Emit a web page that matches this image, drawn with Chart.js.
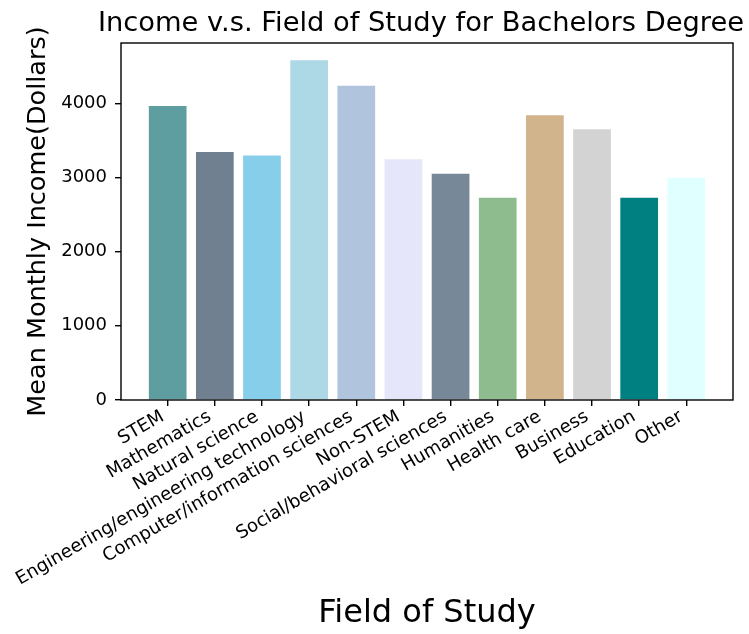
<!DOCTYPE html>
<html>
<head>
<meta charset="utf-8">
<script src="https://cdn.jsdelivr.net/npm/chart.js@4"></script>
<style>
html,body{margin:0;padding:0;background:#fff;}
#wrap{width:749px;height:634px;}
</style>
</head>
<body>
<div id="wrap"><canvas id="c" width="749" height="634"></canvas></div>
<script>
const chartTitle = "Income v.s. Field of Study for Bachelors Degree";
const xAxisTitle = "Field of Study";
const yAxisTitle = "Mean Monthly Income(Dollars)";
const categories = ["STEM","Mathematics","Natural science","Engineering/engineering technology","Computer/information sciences","Non-STEM","Social/behavioral sciences","Humanities","Health care","Business","Education","Other"];
const incomes = [3964, 3344, 3294, 4578, 4235, 3245, 3051, 2727, 3838, 3648, 2727, 2997];
const barColors = ["#5F9EA0","#708090","#87CEEB","#ADD8E6","#B0C4DE","#E6E6FA","#778899","#8FBC8F","#D2B48C","#D3D3D3","#008080","#E0FFFF"];
const yTicks = [0, 1000, 2000, 3000, 4000];
const yMax = 4812;

const FONT = '"DejaVu Sans", sans-serif';

const framePlugin = {
  id: 'frame',
  afterDraw(chart) {
    const {ctx, chartArea: a} = chart;
    ctx.save();
    ctx.strokeStyle = '#000';
    ctx.lineWidth = 1.4;
    ctx.strokeRect(a.left, a.top, a.right - a.left, a.bottom - a.top);
    ctx.fillStyle = '#000';
    ctx.font = '27.3px ' + FONT;
    ctx.textAlign = 'center';
    ctx.textBaseline = 'alphabetic';
    ctx.fillText(chartTitle, 421, 31);
    ctx.restore();
  }
};

new Chart(document.getElementById('c'), {
  type: 'bar',
  data: {
    datasets: [{
      data: incomes.map((v, i) => ({x: i, y: v})),
      backgroundColor: barColors,
      borderWidth: 0,
      categoryPercentage: 1.0,
      barPercentage: 0.8
    }]
  },
  plugins: [framePlugin],
  options: {
    responsive: false,
    animation: false,
    layout: {padding: {left: 0, right: 16, top: 43, bottom: 0}},
    plugins: {legend: {display: false}, tooltip: {enabled: false}, title: {display: false}},
    scales: {
      x: {
        type: 'linear',
        min: -0.99,
        max: 11.99,
        offset: false,
        afterBuildTicks(scale) { scale.ticks = categories.map((_, i) => ({value: i})); },
        afterFit(scale) { scale.height = 234; },
        border: {display: false},
        grid: {offset: false, drawOnChartArea: false, drawTicks: true, tickLength: 6, color: '#000', lineWidth: 1.4},
        ticks: {
          autoSkip: false,
          minRotation: 30,
          maxRotation: 30,
          padding: 0,
          labelOffset: -5,
          color: '#000',
          font: {family: FONT, size: 18.2},
          callback: (v) => categories[Math.round(v)] ?? ''
        },
        title: {display: true, text: xAxisTitle, color: '#000', font: {family: FONT, size: 32}, padding: {top: 0, bottom: 1}}
      },
      y: {
        min: 0,
        max: yMax,
        afterBuildTicks(scale) { scale.ticks = yTicks.map(v => ({value: v})); },
        afterFit(scale) { scale.width = 121; },
        border: {display: false},
        grid: {drawOnChartArea: false, drawTicks: true, tickLength: 6, color: '#000', lineWidth: 1.4},
        ticks: {
          padding: 8,
          color: '#000',
          font: {family: FONT, size: 18},
          callback: (v) => String(v)
        },
        title: {display: true, text: yAxisTitle, color: '#000', font: {family: FONT, size: 25.5}, padding: {top: 23, bottom: 0}}
      }
    }
  }
});
</script>
</body>
</html>
